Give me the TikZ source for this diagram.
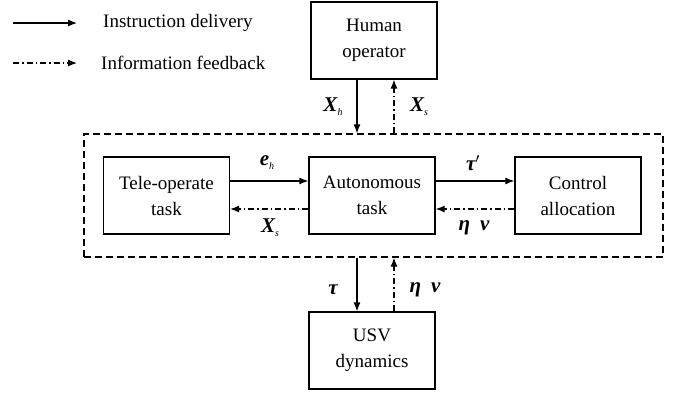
\documentclass[tikz,border=0pt]{standalone}
\usepackage{fontspec}
\setmainfont{Liberation Serif}
\usetikzlibrary{arrows.meta}
\newcommand{\mysub}[1]{\raisebox{-4pt}{\fontsize{10}{10}\selectfont\itshape #1}}
\newcommand{\mybi}[1]{{\bfseries\itshape #1}}
\begin{document}
\begin{tikzpicture}[x=1pt,y=-1pt,
  box/.style={draw, line width=1.2pt, minimum width=126pt, minimum height=77pt, inner sep=0pt, align=center, font=\fontsize{19}{26}\selectfont},
  ins/.style={line width=1.2pt, -{Latex[length=9pt,width=7pt]}},
  fb/.style={line width=1.2pt, dash pattern=on 6pt off 3pt on 1.5pt off 3pt, -{Latex[length=9pt,width=7pt]}},
  lbl/.style={inner sep=0pt, font=\fontsize{21}{24}\selectfont},
  txt/.style={inner sep=0pt, anchor=west, font=\fontsize{19}{22}\selectfont}]
\useasboundingbox (0,0) rectangle (673,394);
% legend
\coordinate (l1a) at (13,23);
\coordinate (l1b) at (77,23);
\coordinate (l2a) at (13,63);
\coordinate (l2b) at (77,63);
\draw[ins] (l1a) -- (l1b);
\draw[fb] (l2a) -- (l2b);
\node[txt] (t1) at (103,23) {Instruction delivery};
\node[txt] (t2) at (101,63) {Information feedback};
% group
\node[draw, line width=1.2pt, dash pattern=on 7pt off 4pt, minimum width=579pt, minimum height=123pt, inner sep=0pt] (grp) at (373.5,195.5) {};
% boxes
\node[box] (ho) at (374,40.5) {Human\\operator};
\node[box] (tele) at (166.5,195.5) {Tele-operate\\task};
\node[box] (auto) at (372,195.5) {Autonomous\\task};
\node[box] (ctrl) at (578,195.5) {Control\\allocation};
\node[box] (usv) at (372,350.5) {USV\\dynamics};
% vertical positions
\coordinate (xa) at (357,0);
\coordinate (xb) at (394,0);
\draw[ins] (ho.south -| xa) -- (grp.north -| xa);
\draw[fb] (grp.north -| xb) -- (ho.south -| xb);
\draw[ins] (grp.south -| xa) -- (usv.north -| xa);
\draw[fb] (usv.north -| xb) -- (grp.south -| xb);
% horizontal
\draw[ins] ([yshift=14.5pt]tele.east) -- ([yshift=14.5pt]auto.west);
\draw[ins] ([yshift=14.5pt]auto.east) -- ([yshift=14.5pt]ctrl.west);
\draw[fb] ([yshift=-13.5pt]auto.west) -- ([yshift=-13.5pt]tele.east);
\draw[fb] ([yshift=-13.5pt]ctrl.west) -- ([yshift=-13.5pt]auto.east);
% labels
\node[lbl] (lxh) at (333,107) {\mybi{X}\mysub{h}};
\node[lbl] (lxs) at (419,107) {\mybi{X}\mysub{s}};
\node[lbl] (leh) at (267,163) {\mybi{e}\mysub{h}};
\node[lbl] (lxs2) at (270,228) {\mybi{X}\mysub{s}};
\node[lbl] (ltp) at (473,163) {\mybi{τ}$^{\prime}$};
\node[lbl] (len) at (474,228) {\mybi{η}\hspace{10pt}\mybi{ν}};
\node[lbl] (lt) at (333,290) {\mybi{τ}};
\node[lbl] (len2) at (425,290) {\mybi{η}\hspace{10pt}\mybi{ν}};
\end{tikzpicture}
\end{document}
